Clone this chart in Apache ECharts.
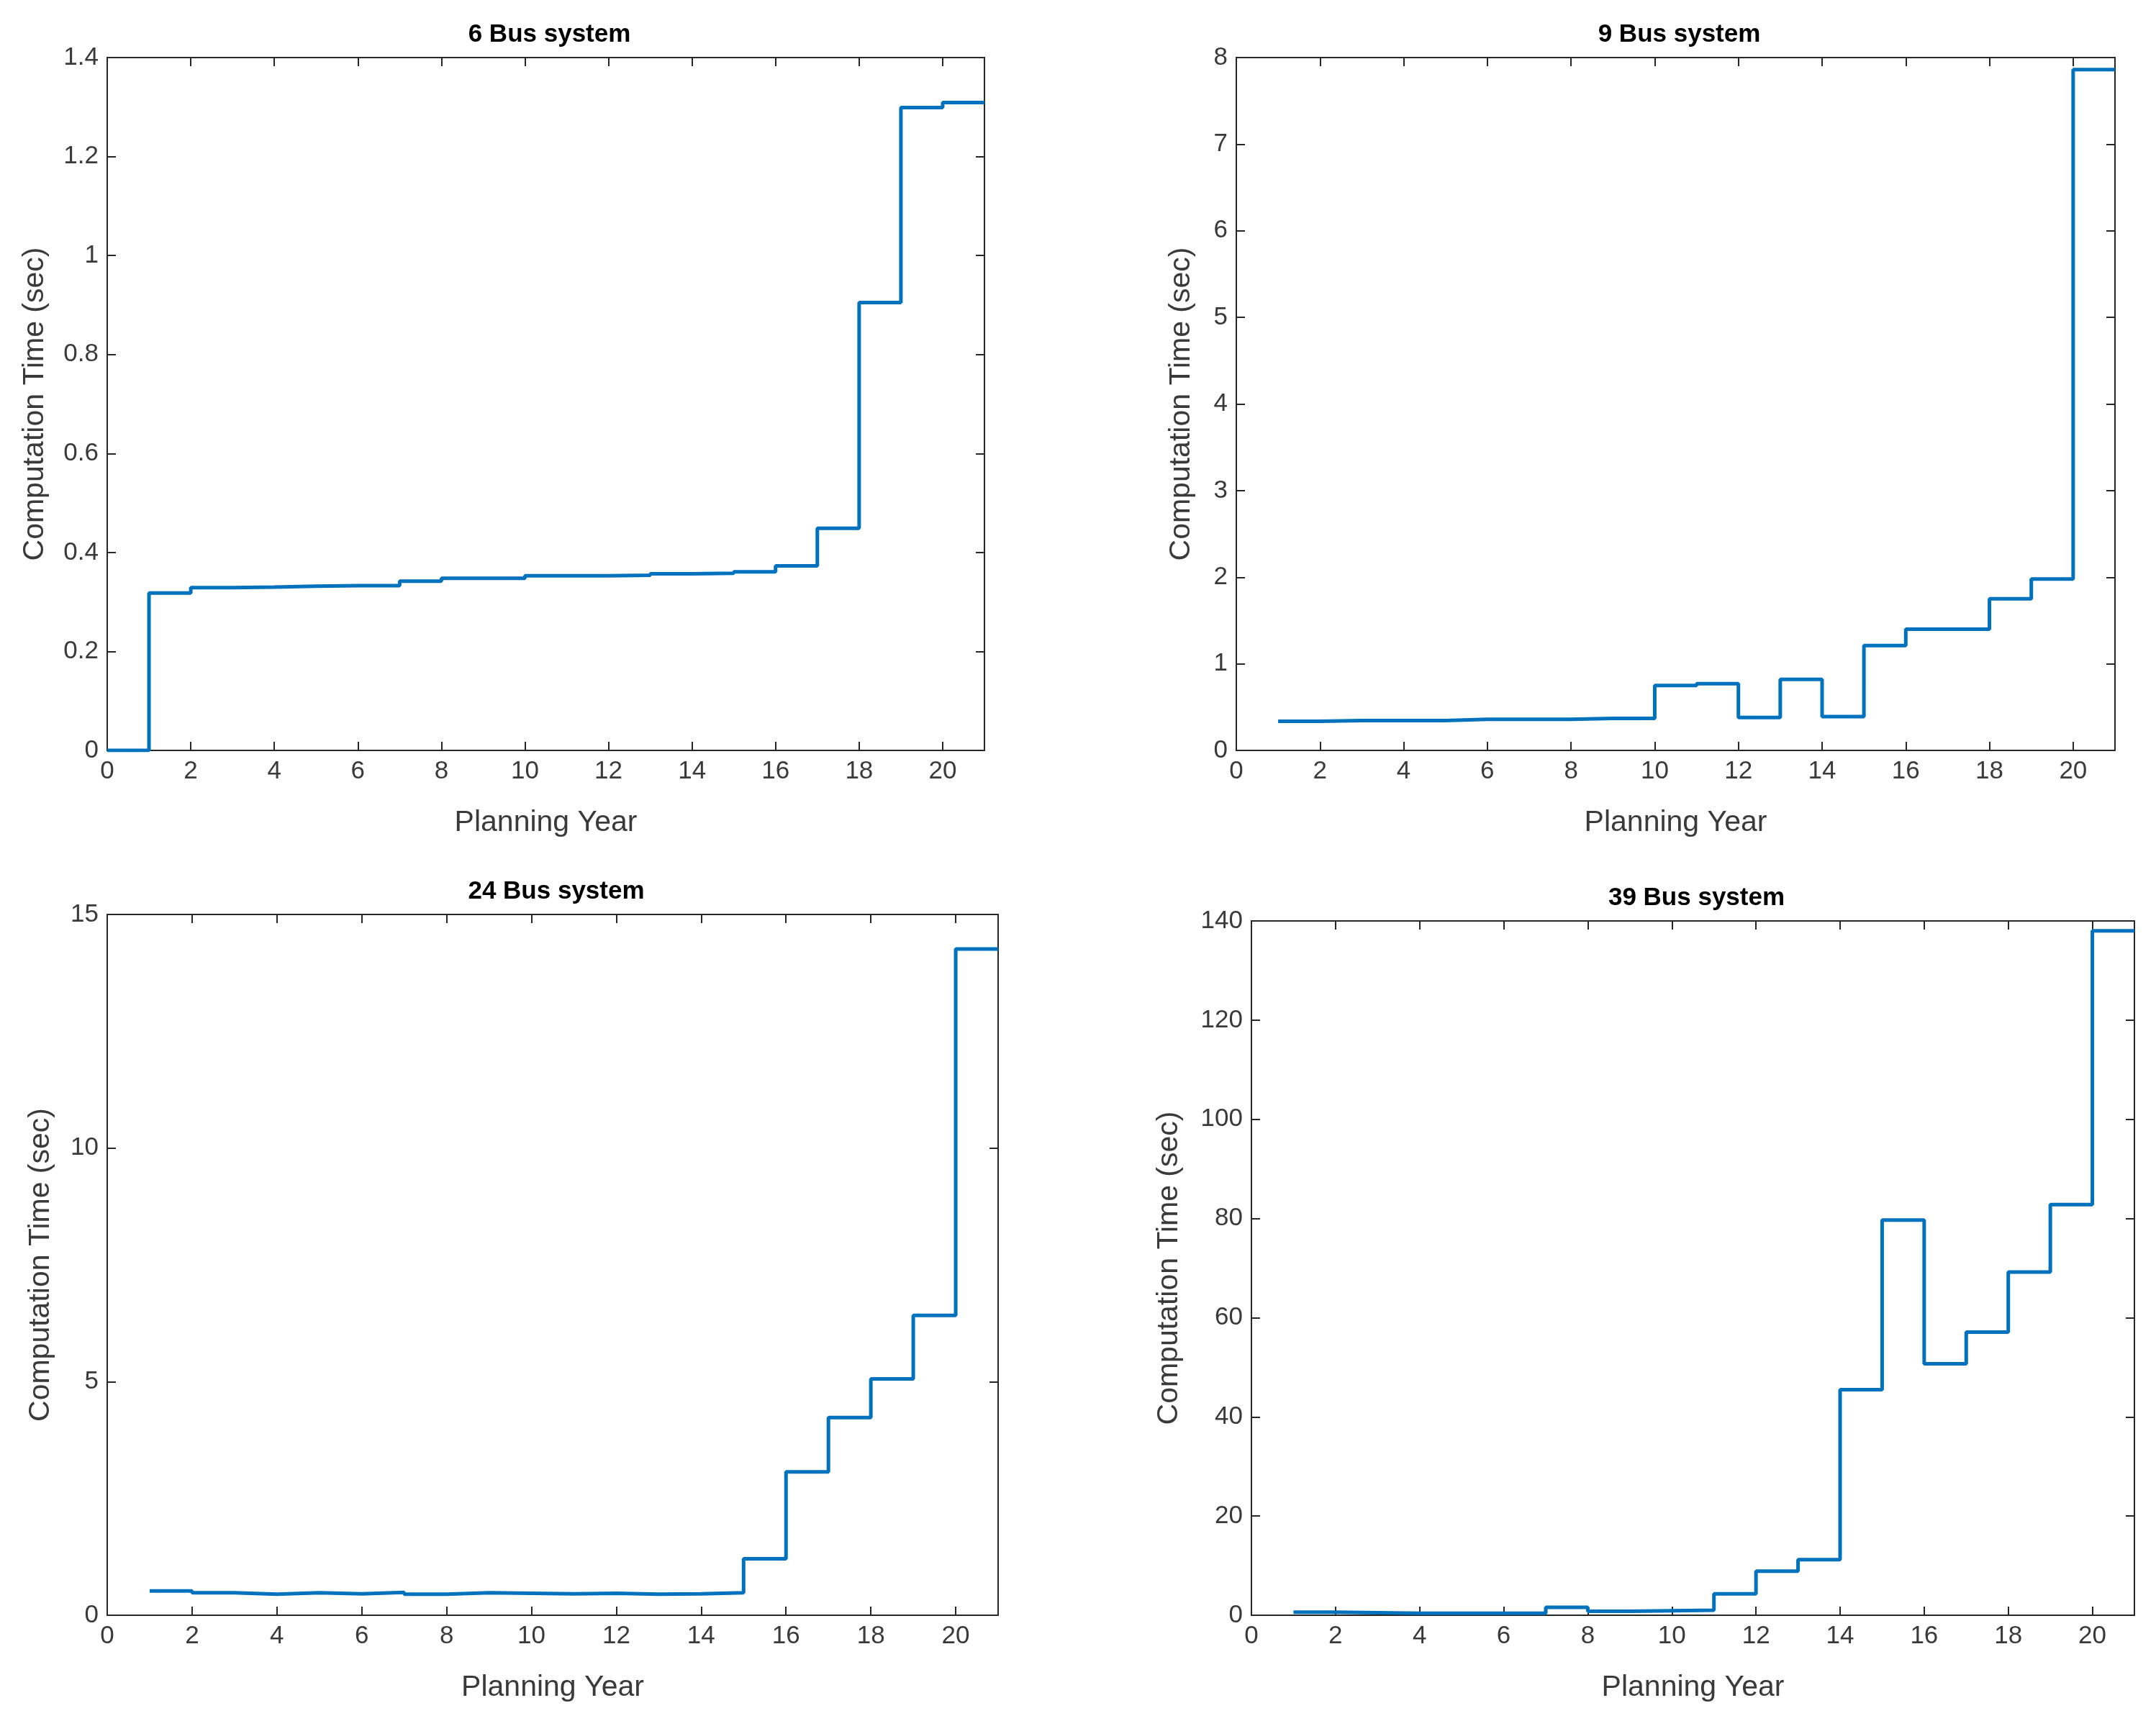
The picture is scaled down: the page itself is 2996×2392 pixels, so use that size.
<!DOCTYPE html>
<html>
<head>
<meta charset="utf-8">
<script src="https://cdn.jsdelivr.net/npm/echarts@6/dist/echarts.min.js"></script>
<style>
html,body{margin:0;padding:0;background:#fff;}
#c{width:2996px;height:2392px;}
</style>
</head>
<body>
<div id="c"></div>
<script>
// ---- data ----
const titles = ['6 Bus system', '9 Bus system', '24 Bus system', '39 Bus system'];
const xTitle = 'Planning Year';
const yTitle = 'Computation Time (sec)';
const xEnd = 21;
const years6 = [0,1,2,3,4,5,6,7,8,9,10,11,12,13,14,15,16,17,18,19,20];
const years = [1,2,3,4,5,6,7,8,9,10,11,12,13,14,15,16,17,18,19,20];
const bus6 = [0, 0.318, 0.329, 0.330, 0.332, 0.333, 0.333, 0.342, 0.348, 0.348, 0.353, 0.353, 0.354, 0.357, 0.358, 0.361, 0.373, 0.449, 0.905, 1.299, 1.309];
const bus9 = [0.337, 0.345, 0.345, 0.345, 0.36, 0.36, 0.36, 0.37, 0.37, 0.75, 0.77, 0.38, 0.82, 0.39, 1.21, 1.40, 1.40, 1.75, 1.98, 7.86];
const bus24 = [0.52, 0.48, 0.45, 0.48, 0.46, 0.49, 0.45, 0.48, 0.47, 0.46, 0.47, 0.45, 0.46, 0.48, 1.21, 3.07, 4.23, 5.06, 6.42, 14.26];
const bus39 = [0.6, 0.5, 0.4, 0.4, 0.4, 0.4, 1.6, 0.8, 0.9, 1.0, 4.3, 8.9, 11.2, 45.5, 79.7, 50.7, 57.1, 69.2, 82.8, 138.0];
const yMax = [1.4, 8, 15, 140];
const yStep = [0.2, 1, 5, 20];

// ---- layout ----
const grids = [
  {left:149, top:80, width:1219, height:963, yGap:80},
  {left:1718, top:80, width:1221, height:963, yGap:56},
  {left:149, top:1271, width:1238, height:974, yGap:72},
  {left:1739, top:1280, width:1227, height:965, yGap:94}
];
const xs = [years6, years, years, years];
const ys = [bus6, bus9, bus24, bus39];

const axisColor = '#262626';
const font = 'Liberation Sans, Arial, sans-serif';

const option = {
  backgroundColor: '#fff',
  animation: false,
  title: [], grid: [], xAxis: [], yAxis: [], series: []
};

grids.forEach((g, i) => {
  option.grid.push({left:g.left, top:g.top, width:g.width, height:g.height, show:true,
    borderColor:axisColor, borderWidth:2, backgroundColor:'#fff', containLabel:false});
  option.title.push({text:titles[i], left:g.left + g.width/2, top:g.top - 54, textAlign:'center',
    textStyle:{fontFamily:font, fontWeight:'bold', fontSize:35, color:'#000'}});
  const tick = {show:true, inside:true, length:12, lineStyle:{color:axisColor, width:2}};
  // bottom x
  option.xAxis.push({type:'value', gridIndex:i, min:0, max:xEnd, interval:2, position:'bottom',
    name:xTitle, nameLocation:'middle', nameGap:80,
    nameTextStyle:{fontFamily:font, fontSize:41, color:'#3a3a3a'},
    axisLine:{show:true, onZero:false, lineStyle:{color:axisColor, width:2}},
    axisTick:tick, splitLine:{show:false},
    axisLabel:{fontFamily:font, fontSize:35, color:'#3a3a3a', margin:12,
      formatter: v => (v % 2 === 0 ? String(v) : '')}});
  // top x (ticks only)
  option.xAxis.push({type:'value', gridIndex:i, min:0, max:xEnd, interval:2, position:'top',
    axisLine:{show:true, onZero:false, lineStyle:{color:axisColor, width:2}},
    axisTick:tick, splitLine:{show:false}, axisLabel:{show:false}});
  // left y
  option.yAxis.push({type:'value', gridIndex:i, min:0, max:yMax[i], interval:yStep[i], position:'left',
    name:yTitle, nameLocation:'middle', nameGap:g.yGap, nameRotate:90,
    nameTextStyle:{fontFamily:font, fontSize:41, color:'#3a3a3a'},
    axisLine:{show:true, onZero:false, lineStyle:{color:axisColor, width:2}},
    axisTick:tick, splitLine:{show:false},
    axisLabel:{fontFamily:font, fontSize:35, color:'#3a3a3a', margin:12}});
  // right y (ticks only)
  option.yAxis.push({type:'value', gridIndex:i, min:0, max:yMax[i], interval:yStep[i], position:'right',
    axisLine:{show:true, onZero:false, lineStyle:{color:axisColor, width:2}},
    axisTick:tick, splitLine:{show:false}, axisLabel:{show:false}});

  const data = xs[i].map((x, k) => [x, ys[i][k]]);
  data.push([xEnd, ys[i][ys[i].length - 1]]);
  option.series.push({type:'line', step:'end', xAxisIndex:2*i, yAxisIndex:2*i,
    data:data, showSymbol:false, symbol:'none',
    lineStyle:{color:'#0072BD', width:5}, clip:true});
});

const chart = echarts.init(document.getElementById('c'), null, {renderer:'canvas'});
chart.setOption(option);
</script>
</body>
</html>
